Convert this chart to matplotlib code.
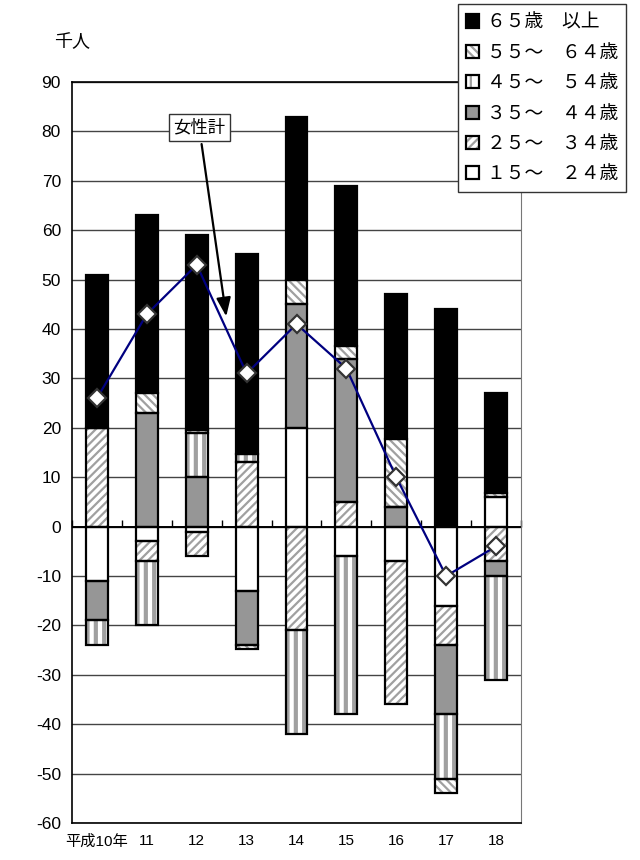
import matplotlib
matplotlib.use("Agg")
import matplotlib.pyplot as plt
import numpy as np
from matplotlib.patches import Patch

plt.rcParams['font.family'] = ['Liberation Sans', 'Noto Sans CJK JP']
plt.rcParams['hatch.linewidth'] = 1.6

# values in thousand persons
years = ['平成10年', '11', '12', '13', '14', '15', '16', '17', '18']
age15_24 = [-11, -3, -1, -13, 20, -6, -7, -16, 6]
age25_34 = [20, -4, -5, 13, -21, 5, -29, -8, -7]
age35_44 = [-8, 23, 10, -11, 25, 29, 4, -14, -3]
age45_54 = [-5, -13, 9, 1.7, -21, -32, 0, -13, -21]
age55_64 = [0, 4, 0.5, -0.8, 5, 2.6, 13.7, -3, 0.8]
age65 = [31, 36, 39.5, 40.4, 33, 32.4, 29.4, 44, 20.2]
women_total = [26, 43, 53, 31, 41, 32, 10, -10, -4]

# label, values, face colour, hatch, hatch line width
series = [
    ('１５～　２４歳', age15_24, 'white', None, 1.6),
    ('２５～　３４歳', age25_34, 'white', '////', 1.6),
    ('３５～　４４歳', age35_44, '#969696', None, 1.6),
    ('４５～　５４歳', age45_54, 'white', '||', 3.0),
    ('５５～　６４歳', age55_64, 'white', '\\\\\\\\', 1.6),
    ('６５歳　以上', age65, 'black', None, 1.6),
]

fig = plt.figure(figsize=(6.4, 8.6), dpi=100)
ax = fig.add_axes([72 / 640, 1 - 823 / 860, 449 / 640, 741 / 860])

x = np.arange(len(years))
width = 0.44
pos_base = np.zeros(len(years))
neg_base = np.zeros(len(years))
handles = []
for label, vals, face, hatch, hlw in series:
    vals = np.array(vals, dtype=float)
    bottom = np.where(vals >= 0, pos_base, neg_base)
    with plt.rc_context({'hatch.linewidth': hlw}):
        ax.bar(x, vals, width, bottom=bottom, color=face, hatch=hatch,
               edgecolor='#a0a0a0', linewidth=0, zorder=2)
        fill = Patch(facecolor=face, hatch=hatch, edgecolor='#a0a0a0',
                     linewidth=0)
    ax.bar(x, vals, width, bottom=bottom, fill=False,
           edgecolor='black', linewidth=1.6, zorder=3)
    pos_base += np.where(vals >= 0, vals, 0)
    neg_base += np.where(vals < 0, vals, 0)
    outline = Patch(fill=False, edgecolor='black', linewidth=1.6)
    handles.append(((fill, outline), label))

ax.plot(x, women_total, color='#000080', linewidth=1.6, marker='D',
        markersize=9, markerfacecolor='white', markeredgecolor='#333333',
        markeredgewidth=1.6, zorder=5)

ax.annotate('女性計', xy=(2.6, 42), xytext=(2.05, 80.8),
            fontsize=12.5, family=['Noto Sans CJK JP'], ha='center', va='center',
            bbox=dict(boxstyle='square,pad=0.25', facecolor='white',
                      edgecolor='#333333', linewidth=1),
            arrowprops=dict(arrowstyle='-|>,head_length=0.9,head_width=0.35',
                            color='black', linewidth=1.6),
            zorder=6)

ax.set_xlim(-0.5, len(years) - 0.5)
ax.set_ylim(-60, 90)
ax.set_yticks(np.arange(-60, 91, 10))
ax.set_yticklabels([str(v) for v in range(-60, 91, 10)], fontsize=12.5)
ax.set_xticks(x)
ax.set_xticklabels(years, fontsize=11)
ax.tick_params(axis='x', length=0, pad=8)
ax.tick_params(axis='y', length=0, pad=8)
ax.grid(axis='y', color='#444444', linewidth=1, zorder=0)
ax.set_axisbelow(True)
ax.axhline(0, color='black', linewidth=1.4, zorder=1)
for side in ['left', 'bottom']:
    ax.spines[side].set_linewidth(1.2)
ax.spines['right'].set_color('#777777')
ax.spines['top'].set_linewidth(1.2)

# category ticks on the zero line
sec = ax.secondary_xaxis(60 / 150)
sec.set_xticks(np.arange(len(years) + 1) - 0.5)
sec.tick_params(axis='x', direction='in', length=5, width=1, labelbottom=False,
                labeltop=False)
sec.spines['bottom'].set_visible(False)
sec.spines['top'].set_visible(False)

fig.text(72 / 640, 1 - 42 / 860, '千人', ha='center', va='center',
         fontsize=13, family=['Noto Sans CJK JP'])

hs = [h for h, _ in handles[::-1]]
ls = [l for _, l in handles[::-1]]
leg = fig.legend(hs, ls, loc='upper left',
                 bbox_to_anchor=(458 / 640, 1 - 4 / 860),
                 prop={'family': ['Noto Sans CJK JP'], 'size': 13.5},
                 handlelength=0.7, handleheight=0.7, handletextpad=0.45,
                 labelspacing=0.5, borderpad=0.4, borderaxespad=0,
                 fancybox=False, framealpha=1, edgecolor='#333333')
leg.get_frame().set_linewidth(1)

fig.savefig('out.png', dpi=100)
